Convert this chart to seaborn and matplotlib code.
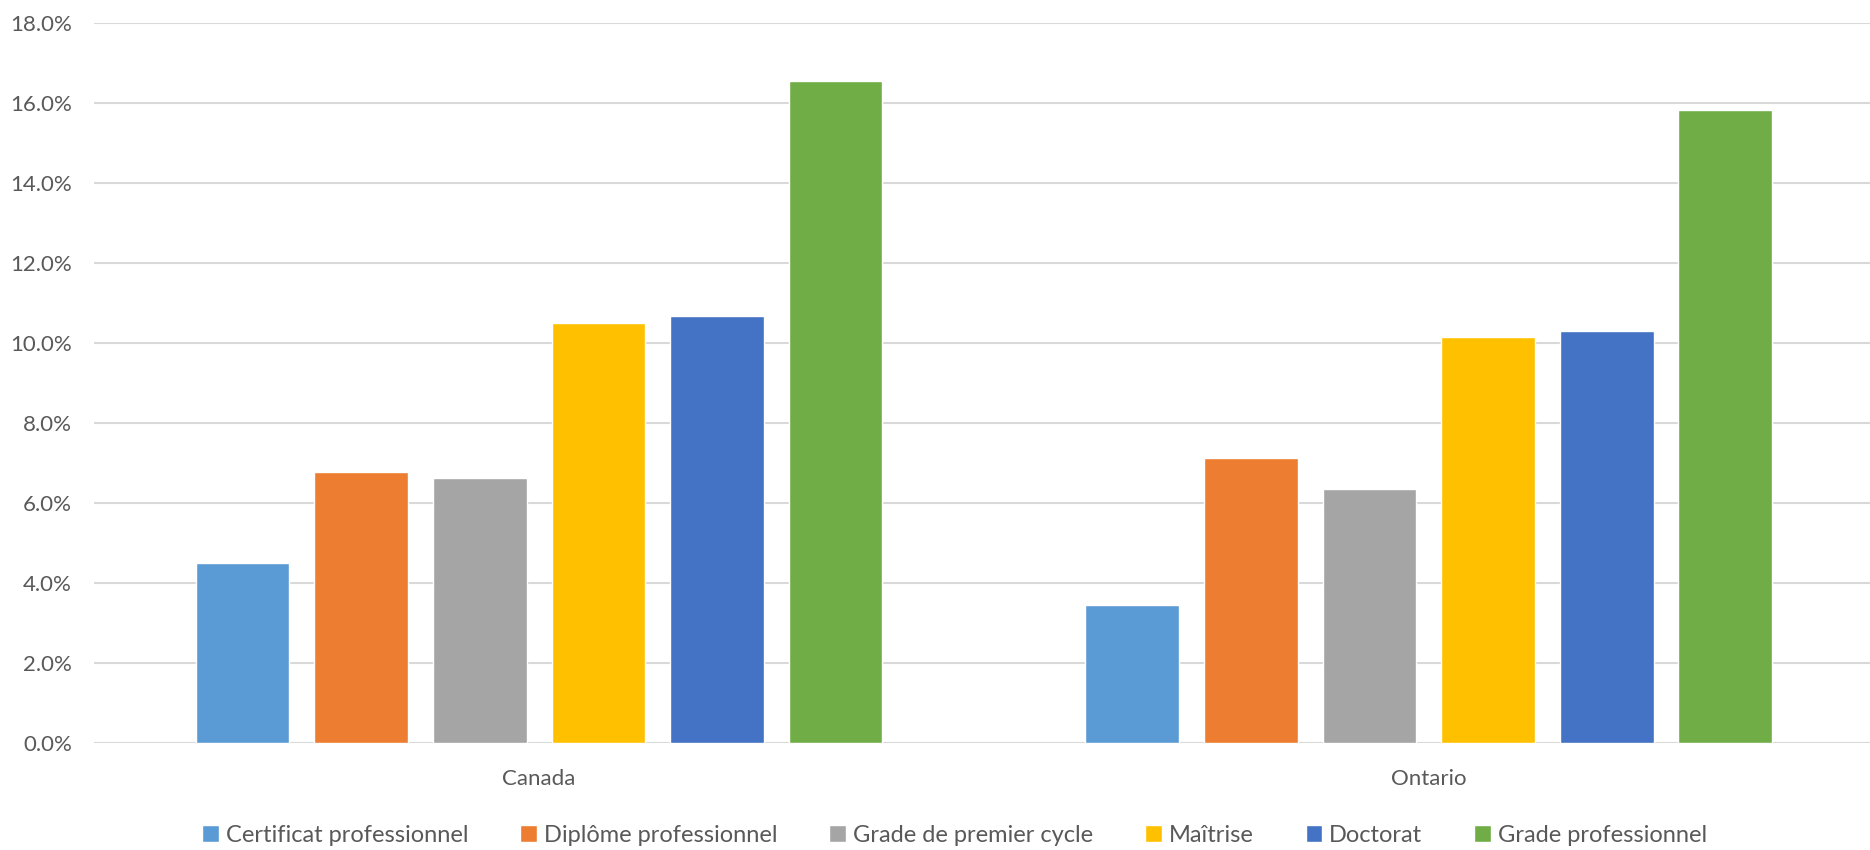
import pandas as pd
import numpy as np
import matplotlib.pyplot as plt
import seaborn as sns

# data (percent)
regions = ["Canada", "Ontario"]
levels = ["Certificat professionnel", "Diplôme professionnel", "Grade de premier cycle",
          "Maîtrise", "Doctorat", "Grade professionnel"]
canada = [4.50, 6.77, 6.62, 10.50, 10.68, 16.54]
ontario = [3.46, 7.13, 6.35, 10.14, 10.30, 15.83]
colors = ["#5B9BD5", "#ED7D31", "#A5A5A5", "#FFC000", "#4472C4", "#70AD47"]

df = pd.DataFrame({
    "region": [r for r in regions for _ in levels],
    "level": levels * 2,
    "value": canada + ontario,
})

sns.set_style("white")
plt.rcParams["font.family"] = ["Lato", "DejaVu Sans"]

fig = plt.figure(figsize=(18.7, 8.5), dpi=100)
ax = fig.add_axes([0.0504, 0.126, 0.9515, 0.847])

sns.barplot(data=df, x="region", y="value", hue="level", hue_order=levels,
            palette=colors, width=0.8, gap=0.21, saturation=1, ax=ax, legend=True)

ax.set_ylim(0, 18)
ax.set_xlim(-0.5, 1.5)
yt = np.arange(0, 18.1, 2)
ax.set_yticks(yt)
ax.set_yticklabels([f"{v:.1f}%" for v in yt])
ax.yaxis.grid(True, color="#D9D9D9", linewidth=1.5)
ax.set_axisbelow(True)
for s in ax.spines.values():
    s.set_visible(False)
ax.tick_params(axis="y", length=0, pad=16, labelsize=16, labelcolor="#595959")
ax.tick_params(axis="x", length=0, pad=19, labelsize=16, labelcolor="#595959")
ax.set_xlabel("")
ax.set_ylabel("")

ax.legend_.remove()
handles, labels = ax.get_legend_handles_labels()
fig.legend(handles, labels, loc="lower center", bbox_to_anchor=(0.5105, -0.02), ncol=6,
           frameon=False, fontsize=17, labelcolor="#595959", handlelength=0.7,
           handleheight=0.7, handletextpad=0.3, columnspacing=2.2)

fig.savefig("out.png", dpi=100)
